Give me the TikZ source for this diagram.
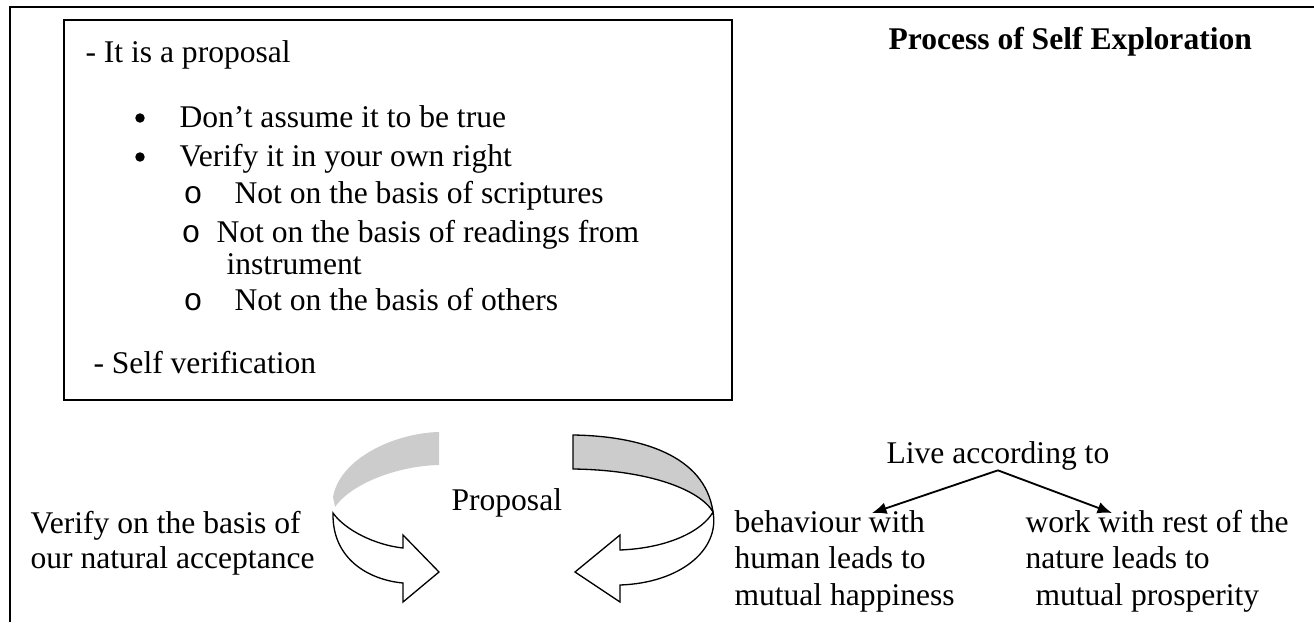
\documentclass[tikz,border=0pt]{standalone}
\usepackage{fontspec}
\setmainfont{Liberation Serif}
\setmonofont{Liberation Mono}
\usetikzlibrary{arrows.meta}
\begin{document}
\begin{tikzpicture}[x=0.38pt,y=-0.38pt]
  \tikzset{ t/.style={anchor=base west,inner sep=0pt,font=\fontsize{12}{14}\selectfont},
    b/.style={t,font=\fontsize{12}{14}\selectfont\bfseries},
    dot/.style={circle,fill=black,inner sep=0pt,minimum size=3.6pt},
    front/.style={draw=black,fill=white,line width=0.5pt},
    back/.style={fill=gray!40},
  }
  \useasboundingbox (0,0) rectangle (1314,622);
  % the frame and the box
  \draw[line width=1.1pt] (10,622) -- (10,7) -- (1314,7);
  \draw[line width=0.8pt] (64,20) rectangle (732,400);

  \node[t] (p1) at (85,62) {- It is a proposal};
  \node[dot] (b1) at (140,118) {};
  \node[t] (l1) at (179,127) {Don’t assume it to be true};
  \node[dot] (b2) at (140,157) {};
  \node[t] (l2) at (179,166) {Verify it in your own right};
  \node[t] (o1) at (183,203) {\ttfamily o};
  \node[t] (s1) at (234,203) {Not on the basis of scriptures};
  \node[t] (o2) at (181,242) {\ttfamily o};
  \node[t] (s2) at (216,242) {Not on the basis of readings from};
  \node[t] (s2b) at (226,274) {instrument};
  \node[t] (o3) at (183,310) {\ttfamily o};
  \node[t] (s3) at (234,310) {Not on the basis of others};
  \node[t] (p2) at (93,373) {- Self verification};

  \node[b] (title) at (888,50) {Process of Self Exploration};

  % the two curled arrows
  \fill[back] (439,432) .. controls (395,433) and (340,458) .. (333,497) -- (335,507) .. controls (350,485) and (395,466) .. (439,465) -- cycle;
  \draw[front] (333,513) .. controls (332,560) and (370,580) .. (403,583) -- (403,602) -- (439,572) -- (403,535) -- (403,548) .. controls (375,545) and (345,530) .. cycle;
  \draw[front,fill=gray!40] (573,435) .. controls (640,436) and (705,455) .. (713,512) .. controls (700,490) and (650,470) .. (573,469) -- cycle;
  \draw[front] (713,512) .. controls (720,550) and (680,583) .. (620,585) -- (620,602) -- (575,572) -- (620,535) -- (620,550) .. controls (670,548) and (703,530) .. cycle;

  \node[t] (v1) at (30,533) {Verify on the basis of};
  \node[t] (v2) at (30,568) {our natural acceptance};
  \node[t] (prop) at (451,510) {Proposal};

  \node[t] (live) at (886,463) {Live according to};
  \node[t] (h1) at (734,532) {behaviour with};
  \node[t] (h2) at (734,568) {human leads to};
  \node[t] (h3) at (734,605) {mutual happiness};
  \node[t] (w1) at (1025,532) {work with rest of the};
  \node[t] (w2) at (1025,568) {nature leads to};
  \node[t] (w3) at (1035,605) {mutual prosperity};

  % the connection to the two ways
  \coordinate (tl) at (872,513);
  \coordinate (tr) at (1112,513);
  \draw[-{Latex[length=5.5pt,width=4.5pt]},line width=0.7pt] (live.south) -- (tl);
  \draw[-{Latex[length=5.5pt,width=4.5pt]},line width=0.7pt] (live.south) -- (tr);
\end{tikzpicture}
\end{document}
